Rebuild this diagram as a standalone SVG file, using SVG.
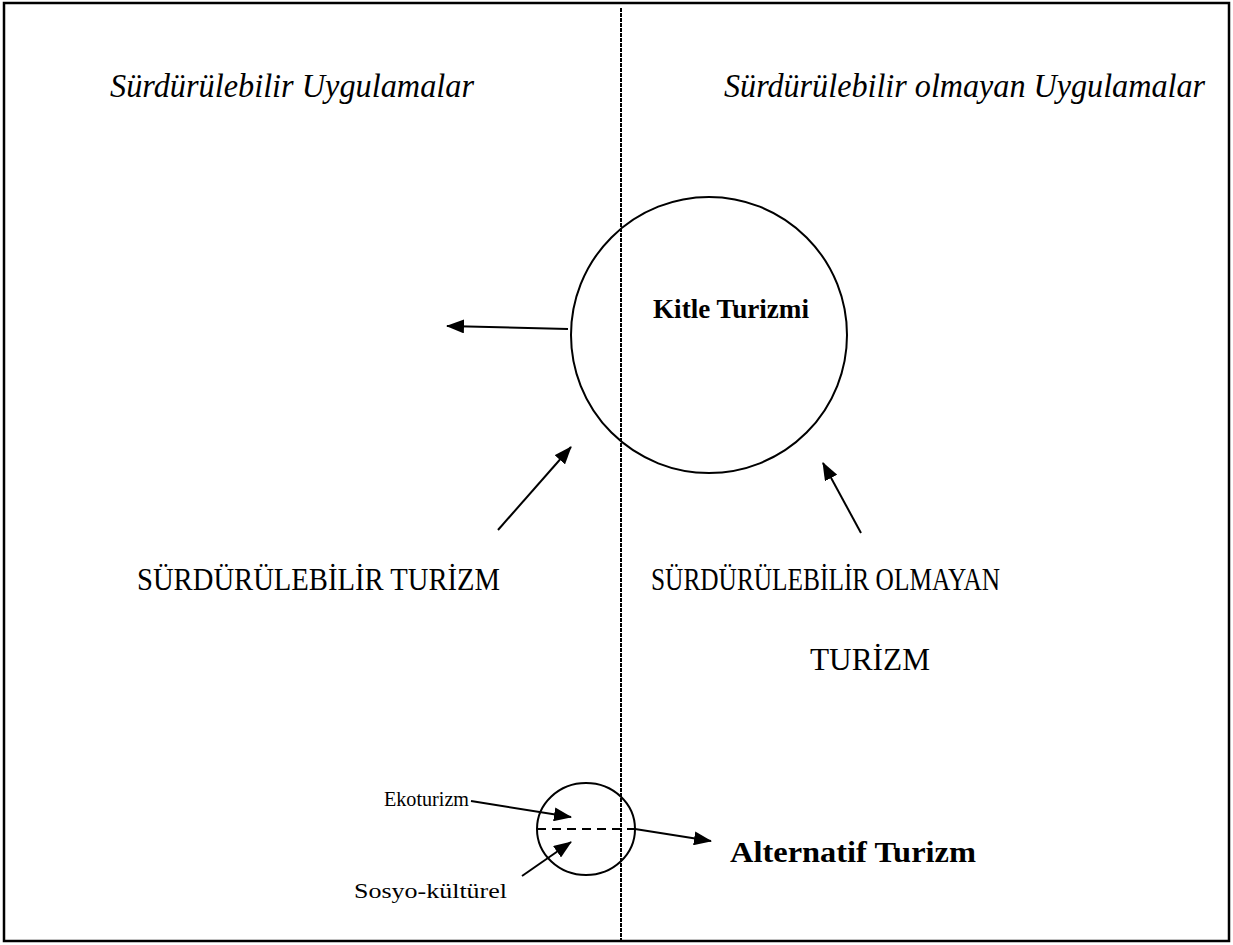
<svg xmlns="http://www.w3.org/2000/svg" width="1233" height="945" viewBox="0 0 1233 945">
<style>
.ln{stroke:#000;stroke-width:2;fill:none}
.t{font-family:"Liberation Serif","Times New Roman",serif;fill:#000}
.i{font-style:italic;font-size:33px}
.r{font-size:31px}
.b{font-weight:bold;font-size:27px}
.ba{font-weight:bold;font-size:30px}
.s{font-size:21px}
</style>
<defs>
<marker id="ah" viewBox="0 0 18 14" refX="17" refY="7" markerWidth="18" markerHeight="14" markerUnits="userSpaceOnUse" orient="auto">
<path d="M0,0 L18,7 L0,14 Z" fill="#000"/>
</marker>
</defs>
<rect x="0" y="0" width="1233" height="945" fill="#fff"/>
<rect x="4" y="3" width="1225" height="938" fill="none" stroke="#000" stroke-width="2.5"/>
<line x1="621" y1="8" x2="621" y2="941" stroke="#000" stroke-width="2" stroke-dasharray="4,1"/>
<g id="hdr-left"><text class="t i" x="110" y="97" textLength="364" lengthAdjust="spacingAndGlyphs">Sürdürülebilir Uygulamalar</text></g>
<g id="hdr-right"><text class="t i" x="724" y="97" textLength="481" lengthAdjust="spacingAndGlyphs">Sürdürülebilir olmayan Uygulamalar</text></g>
<g id="kitle">
<circle class="ln" cx="709" cy="335" r="138"/>
<text class="t b" x="653" y="318" textLength="156" lengthAdjust="spacingAndGlyphs">Kitle Turizmi</text>
</g>
<g id="surd"><text class="t r" x="137" y="590" textLength="363" lengthAdjust="spacingAndGlyphs">SÜRDÜRÜLEBİLİR TURİZM</text></g>
<g id="surd-olm">
<text class="t r" x="651" y="590" textLength="349" lengthAdjust="spacingAndGlyphs">SÜRDÜRÜLEBİLİR OLMAYAN</text>
<text class="t r" x="810" y="670" textLength="120" lengthAdjust="spacingAndGlyphs">TURİZM</text>
</g>
<g id="alt">
<ellipse class="ln" cx="586" cy="829" rx="49" ry="46"/>
<line x1="537" y1="829" x2="635" y2="829" stroke="#000" stroke-width="2" stroke-dasharray="9,6"/>
</g>
<g id="alt-label"><text class="t ba" x="730" y="862" textLength="246" lengthAdjust="spacingAndGlyphs">Alternatif Turizm</text></g>
<g id="eko"><text class="t s" x="384" y="806" textLength="85" lengthAdjust="spacingAndGlyphs">Ekoturizm</text></g>
<g id="sosyo"><text class="t s" x="354" y="898" textLength="153" lengthAdjust="spacingAndGlyphs">Sosyo-kültürel</text></g>
<g id="connectors">
<line class="ln" x1="568" y1="329" x2="447" y2="326" marker-end="url(#ah)"/>
<line class="ln" x1="498" y1="530" x2="571" y2="447" marker-end="url(#ah)"/>
<line class="ln" x1="861" y1="533" x2="823" y2="463" marker-end="url(#ah)"/>
<line class="ln" x1="635" y1="829" x2="711" y2="841" marker-end="url(#ah)"/>
<line class="ln" x1="471" y1="801" x2="571" y2="817" marker-end="url(#ah)"/>
<line class="ln" x1="522" y1="876" x2="571" y2="842" marker-end="url(#ah)"/>
</g>
</svg>
